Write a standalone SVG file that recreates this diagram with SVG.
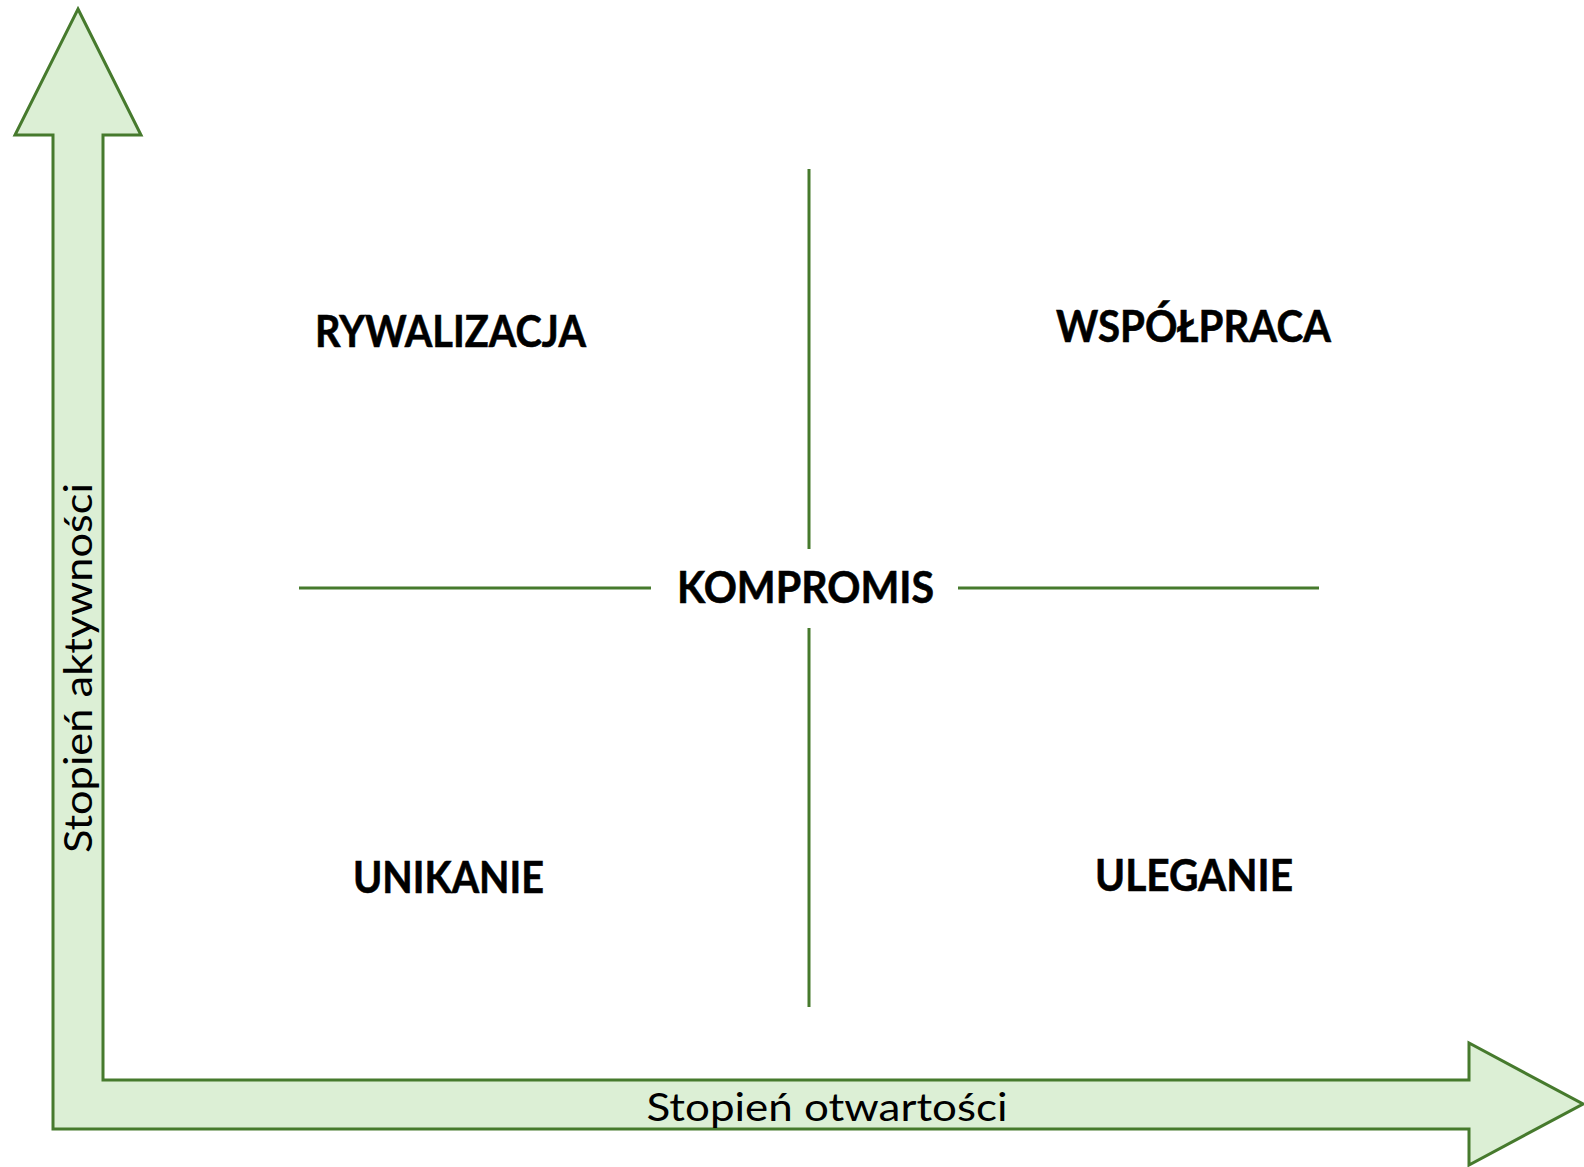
<svg xmlns="http://www.w3.org/2000/svg" width="1584" height="1167" viewBox="0 0 1584 1167">
  <style>
    .axis { fill: #dcefd5; stroke: #467a2d; stroke-width: 3; stroke-linejoin: miter; }
    .div { stroke: #467a2d; stroke-width: 3; fill: none; }
    .lbl { font-family: Lato, "Liberation Sans", sans-serif; font-weight: bold; font-size: 44px; fill: #000; stroke: #000; stroke-width: 0.6; }
    .ax { font-family: Lato, "Liberation Sans", sans-serif; font-size: 38px; fill: #000; }
  </style>
  <rect width="1584" height="1167" fill="#ffffff"/>
  <g id="axes">
    <path class="axis" d="M78,9 L141,135 L103,135 L103,1080 L1469,1080 L1469,1043 L1583,1104 L1469,1165 L1469,1129 L53,1129 L53,135 L15,135 Z"/>
    <text class="ax" x="827" y="1121" text-anchor="middle" textLength="361" lengthAdjust="spacingAndGlyphs">Stopień otwartości</text>
    <text class="ax" transform="translate(92,668) rotate(-90)" x="0" y="0" text-anchor="middle" textLength="370" lengthAdjust="spacingAndGlyphs">Stopień aktywności</text>
  </g>
  <g id="connectors">
    <line class="div" x1="809" y1="169" x2="809" y2="549"/>
    <line class="div" x1="809" y1="628" x2="809" y2="1007"/>
    <line class="div" x1="299" y1="588" x2="651" y2="588"/>
    <line class="div" x1="958" y1="588" x2="1319" y2="588"/>
  </g>
  <g id="rywalizacja">
    <text class="lbl" x="450.5" y="347" text-anchor="middle" textLength="271" lengthAdjust="spacingAndGlyphs">RYWALIZACJA</text>
  </g>
  <g id="wspolpraca">
    <text class="lbl" x="1193.5" y="342" text-anchor="middle" textLength="275" lengthAdjust="spacingAndGlyphs">WSPÓŁPRACA</text>
  </g>
  <g id="kompromis">
    <text class="lbl" x="805.5" y="603" text-anchor="middle" textLength="257" lengthAdjust="spacingAndGlyphs">KOMPROMIS</text>
  </g>
  <g id="unikanie">
    <text class="lbl" x="448.5" y="893" text-anchor="middle" textLength="191" lengthAdjust="spacingAndGlyphs">UNIKANIE</text>
  </g>
  <g id="uleganie">
    <text class="lbl" x="1194" y="891" text-anchor="middle" textLength="198" lengthAdjust="spacingAndGlyphs">ULEGANIE</text>
  </g>
</svg>
